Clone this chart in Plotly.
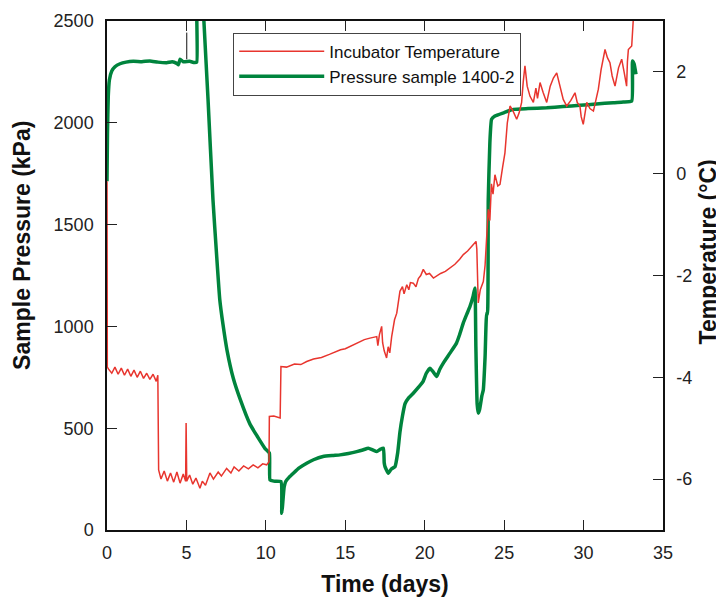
import plotly.graph_objects as go

# ---- Data ----
# Pressure sample 1400-2 (kPa, left axis)
pressure_days = [0.00, 0.03, 0.08, 0.15, 0.30, 0.50, 0.82, 1.2, 1.66, 2.2, 2.7, 3.2, 3.76, 4.1, 4.39, 4.5, 4.6,
                 4.8, 5.2, 5.5, 5.65, 5.66, 5.93, 6.1, 6.36, 6.67, 6.9, 7.1, 7.3, 7.55, 7.95, 8.37, 9.0, 9.5,
                 9.95, 10.22, 10.26, 10.5, 10.95, 11.0, 11.05, 11.15, 11.25, 11.5, 11.73, 12.1, 12.57, 13.0,
                 13.6, 14.2, 14.67, 15.2, 15.72, 16.1, 16.45, 16.75, 16.98, 17.2, 17.4, 17.45, 17.5, 17.71,
                 17.9, 18.13, 18.3, 18.44, 18.6, 18.76, 19.0, 19.28, 19.6, 19.9, 20.1, 20.33, 20.5, 20.75,
                 20.95, 21.17, 21.6, 22.0, 22.2, 22.43, 22.65, 22.85, 23.05, 23.16, 23.22, 23.3, 23.37, 23.45,
                 23.6, 23.69, 23.8, 23.9, 23.95, 24.0, 24.1, 24.21, 24.42, 25.0, 25.58, 26.5, 27.68, 28.7,
                 29.77, 30.8, 31.87, 32.5, 33.03, 33.08, 33.18, 33.3]
pressure_kpa = [1713, 1950, 2131, 2210, 2254, 2275, 2290, 2298, 2302, 2300, 2304, 2298, 2295, 2300, 2292, 2285, 2312,
                2300, 2302, 2296, 2298, 2800, 2800, 2500, 2115, 1623, 1350, 1131, 1010, 885, 745, 645, 520, 455,
                400, 378, 246, 240, 238, 82, 120, 210, 238, 262, 279, 305, 328, 345,
                361, 366, 369, 376, 385, 393, 402, 392, 385, 396, 402, 330, 311, 279,
                300, 311, 380, 480, 560, 620, 650, 672, 700, 730, 770, 795, 780, 754,
                790, 820, 870, 918, 960, 1017, 1060, 1098, 1150, 1189, 900, 620, 574, 590,
                660, 689, 850, 1066, 1060, 1623, 1900, 2017, 2033, 2050, 2066, 2070, 2074, 2080,
                2086, 2092, 2099, 2102, 2107, 2304, 2290, 2238]

# Incubator temperature (deg C, right axis)
temp_days = [0.0, 0.02, 0.1, 0.3, 0.5, 0.7, 0.9, 1.1, 1.3, 1.5, 1.7, 1.9, 2.1, 2.3, 2.5, 2.7, 2.9, 3.1, 3.2,
             3.25, 3.4, 3.6, 3.8, 4.0, 4.2, 4.4, 4.6, 4.8, 4.95, 4.98, 5.02, 5.2, 5.4, 5.6, 5.85, 6.0, 6.2,
             6.48, 6.7, 7.0, 7.2, 7.53, 7.8, 8.0, 8.3, 8.6, 8.9, 9.2, 9.5, 9.8, 10.05, 10.2, 10.22, 10.5,
             10.9, 10.95, 11.3, 11.8, 12.2, 12.57, 13.0, 13.5, 14.0, 14.25, 14.7, 15.0, 15.5, 15.8, 16.2,
             16.55, 16.98, 17.05, 17.15, 17.29, 17.35, 17.45, 17.6, 17.7, 17.8, 17.92, 18.1, 18.24, 18.44,
             18.6, 18.7, 18.87, 19.0, 19.1, 19.28, 19.45, 19.6, 19.75, 19.91, 20.1, 20.3, 20.55, 20.8, 21.0,
             21.3, 21.6, 21.9, 22.2, 22.43, 22.7, 23.0, 23.23, 23.28, 23.37, 23.5, 23.69, 23.8, 23.9, 24.0,
             24.1, 24.2, 24.3, 24.42, 24.6, 24.74, 24.9, 25.05, 25.2, 25.37, 25.55, 25.79, 25.95, 26.1,
             26.2, 26.31, 26.45, 26.63, 26.84, 27.0, 27.1, 27.26, 27.45, 27.68, 27.9, 28.1, 28.31, 28.5,
             28.72, 28.94, 29.2, 29.46, 29.6, 29.77, 29.85, 29.98, 30.1, 30.2, 30.4, 30.62, 30.8, 30.93,
             31.1, 31.35, 31.5, 31.66, 31.8, 31.98, 32.2, 32.4, 32.55, 32.71, 32.76, 32.82, 33.03, 33.13,
             33.2]
temp_c = [-0.15, -3.80, -3.84, -3.92, -3.80, -3.94, -3.82, -3.96, -3.84, -3.98, -3.86, -4.00, -3.88, -4.02,
          -3.92, -4.04, -3.94, -4.08, -3.96,
          -5.82, -6.00, -5.84, -6.04, -5.88, -6.06, -5.86, -6.08, -5.90, -6.04, -4.90, -6.04, -5.92, -6.10,
          -5.98, -6.18, -6.04, -6.12,
          -5.88, -6.00, -5.86, -5.94, -5.79, -5.88, -5.76, -5.84, -5.74, -5.80, -5.72, -5.78, -5.70, -5.72,
          -5.66, -4.77, -4.76,
          -4.80, -3.79, -3.80, -3.74, -3.75, -3.69, -3.64, -3.61, -3.55, -3.52, -3.46, -3.44, -3.36, -3.32,
          -3.26,
          -3.23, -3.20, -3.38, -3.16, -3.00, -3.32, -3.48, -3.62, -3.40, -3.52, -3.20, -2.87, -2.74, -2.31,
          -2.22, -2.36, -2.18, -2.28, -2.14, -2.15, -2.22, -2.06, -2.00, -1.88, -1.98, -1.96, -2.05, -2.00,
          -1.96,
          -1.92, -1.85, -1.78, -1.68, -1.59, -1.52, -1.42, -1.33, -1.48, -2.54, -2.28, -2.12, -1.80, -1.20,
          -0.70,
          -0.92, -0.20, -0.40, -0.02, -0.24, -0.21, 0.12, 0.41, 1.00, 1.33, 1.24, 1.07, 1.20, 1.40,
          1.80, 2.12, 1.72, 1.52, 1.40, 1.68, 1.48, 1.79, 1.60, 1.40, 1.72, 1.88, 1.98, 1.72,
          1.46, 1.33, 1.44, 1.59, 1.40, 1.33, 1.12, 0.97, 1.24, 1.40, 1.28, 1.23, 1.48, 1.66,
          2.04, 2.44, 2.28, 2.18, 1.92, 1.72, 2.08, 2.25, 2.00, 1.72, 2.20, 2.44, 2.51, 3.08,
          3.40]

# Short black vertical trace near day 5 at the top of the plot
spike_days = [5.02, 5.02]
spike_kpa = [2312, 2443]

x_ticks = [0, 5, 10, 15, 20, 25, 30, 35]
p_ticks = [0, 500, 1000, 1500, 2000, 2500]
t_ticks = [-6, -4, -2, 0, 2]
t_tick_labels = ["-6", "-4", "-2", "0", "2"]

RED = "#e8352e"
GREEN = "#00843d"
FONT = "Arial, Liberation Sans, sans-serif"

fig = go.Figure()
fig.add_trace(go.Scatter(x=temp_days, y=temp_c, mode="lines", name="Incubator Temperature",
                         line=dict(color=RED, width=1.5), yaxis="y2"))
fig.add_trace(go.Scatter(x=pressure_days, y=pressure_kpa, mode="lines", name="Pressure sample 1400-2",
                         line=dict(color=GREEN, width=3.5, shape="spline", smoothing=0.4), yaxis="y"))
fig.add_trace(go.Scatter(x=spike_days, y=spike_kpa, mode="lines", showlegend=False,
                         line=dict(color="#111111", width=1), yaxis="y", hoverinfo="skip"))

axis_common = dict(showgrid=False, zeroline=False, ticks="inside", ticklen=10, tickwidth=1.3,
                   tickcolor="#222", showline=True, linecolor="#111", linewidth=1.5, automargin=False,
                   tickfont=dict(family=FONT, size=18, color="#222"))

title_font = dict(family=FONT, size=23, weight="bold", color="#111")

# The page adds an 8 px body margin, so the figure is sized 8 px smaller to fit the window.
fig.update_layout(
    width=716, height=589,
    margin=dict(l=99, r=61, t=13, b=67, autoexpand=False),
    plot_bgcolor="white", paper_bgcolor="white",
    font=dict(family=FONT, color="#111"),
    xaxis=dict(range=[0, 35], tickvals=x_ticks, mirror="ticks", ticklabelstandoff=6,
               title=dict(text="Time (days)", font=title_font, standoff=15),
               **axis_common),
    yaxis=dict(range=[0, 2500], tickvals=p_ticks, ticklabelstandoff=8,
               **axis_common),
    yaxis2=dict(range=[-7, 3], tickvals=t_ticks, ticktext=t_tick_labels, overlaying="y", side="right",
                ticklabelstandoff=8,
                **axis_common),
    legend=dict(x=0.227, y=0.977, xanchor="left", yanchor="top", bgcolor="white",
                bordercolor="#444", borderwidth=1, itemwidth=85,
                font=dict(family=FONT, size=17, color="#111"), tracegroupgap=0),
    showlegend=True,
    annotations=[
        dict(text="Sample Pressure (kPa)", xref="paper", yref="paper", x=-0.153, y=0.560,
             xanchor="center", yanchor="middle", textangle=-90, showarrow=False, font=title_font),
        dict(text="Temperature (°C)", xref="paper", yref="paper", x=1.0815, y=0.546,
             xanchor="center", yanchor="middle", textangle=-90, showarrow=False, font=title_font),
    ],
)

fig.write_html("out.html")
